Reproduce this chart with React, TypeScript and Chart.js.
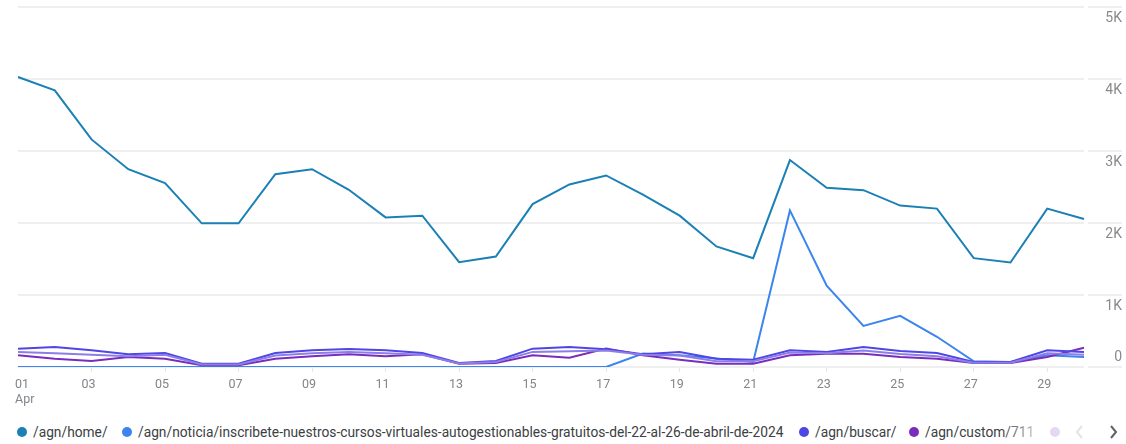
import React, { useEffect, useRef } from 'react';
import { Chart, registerables } from 'chart.js';

Chart.register(...registerables);

const days = ['01','02','03','04','05','06','07','08','09','10','11','12','13','14','15','16','17','18','19','20','21','22','23','24','25','26','27','28','29','30'];
const monthLabel = 'Apr';

const home = [4028,3843,3161,2747,2553,1995,1995,2677,2747,2461,2078,2101,1456,1535,2263,2535,2660,2395,2102,1674,1512,2874,2488,2456,2242,2200,1512,1451,2200,2056];
const noticia = [0,0,0,0,0,0,0,0,0,0,0,0,0,0,0,0,0,187,164,117,70,2175,1131,570,710,420,80,70,162,139];
const buscar = [255,278,231,176,194,46,46,194,231,250,231,194,56,83,255,278,245,176,208,116,102,231,208,278,222,194,70,70,231,208];
const custom711 = [162,116,83,139,116,23,23,116,148,176,148,176,46,56,162,130,255,162,102,46,46,162,185,185,139,116,56,56,139,268];
const fifthPage = [210,190,170,150,170,35,35,160,190,210,190,170,50,70,210,220,230,170,160,80,80,200,190,230,180,150,60,60,190,170];

const yTickValues = [0,1000,2000,3000,4000,5000];
const yTickLabels = ['0','1K','2K','3K','4K','5K'];

const legendNames = [
  '/agn/home/',
  '/agn/noticia/inscribete-nuestros-cursos-virtuales-autogestionables-gratuitos-del-22-al-26-de-abril-de-2024',
  '/agn/buscar/',
  '/agn/custom/711',
];
const seriesColors = ['#1b80b5', '#3a85ef', '#4f46e5', '#7a2dbd', '#8c7ee6'];
const legendDotX = [22, 127, 804, 914];

const yLabelPlugin = {
  id: 'yLabelPlugin',
  afterDraw(chart: any) {
    const { ctx, chartArea, scales } = chart;
    const y = scales.y;
    ctx.save();
    yTickValues.forEach((v, i) => {
      const py = Math.round(y.getPixelForValue(v));
      ctx.strokeStyle = '#efefef';
      ctx.lineWidth = 2;
      ctx.beginPath();
      ctx.moveTo(chartArea.right + 4, py);
      ctx.lineTo(chart.width - 4, py);
      ctx.stroke();
      ctx.fillStyle = '#8a8a8a';
      ctx.font = '14px Roboto';
      ctx.textAlign = 'right';
      ctx.textBaseline = 'middle';
      ctx.fillText(yTickLabels[i], chart.width - 4, v === 0 ? py - 10 : py + 11);
    });
    ctx.restore();
  },
};

export default function App() {
  const canvasRef = useRef<HTMLCanvasElement | null>(null);

  useEffect(() => {
    document.body.style.margin = '0';
    const canvas = canvasRef.current;
    if (!canvas) return;
    const mk = (label: string, data: number[], color: string) => ({
      label,
      data,
      borderColor: color,
      backgroundColor: color,
      borderWidth: 2,
      pointRadius: 0,
      tension: 0,
      fill: false,
    });
    const chart = new Chart(canvas, {
      type: 'line',
      data: {
        labels: days,
        datasets: [
          mk('fifth', fifthPage, seriesColors[4]),
          mk(legendNames[2], buscar, seriesColors[2]),
          mk(legendNames[3], custom711, seriesColors[3]),
          mk(legendNames[1], noticia, seriesColors[1]),
          mk(legendNames[0], home, seriesColors[0]),
        ],
      },
      options: {
        animation: false,
        responsive: true,
        maintainAspectRatio: false,
        layout: { padding: { left: 18, top: 7, right: 0, bottom: 0 } },
        plugins: { legend: { display: false }, tooltip: { enabled: false } },
        scales: {
          x: {
            offset: false,
            grid: {
              drawOnChartArea: false,
              drawTicks: true,
              tickLength: 5,
              tickColor: (c: any) => (c.index % 2 === 0 && c.index > 0 ? '#e6e6e6' : 'rgba(0,0,0,0)'),
            },
            border: { display: false },
            afterFit: (s: any) => { s.height = 43; },
            ticks: {
              autoSkip: false,
              maxRotation: 0,
              align: 'inner',
              labelOffset: -3,
              padding: 5,
              color: '#80868b',
              font: { family: 'Roboto', size: 12.5 },
              callback: (_v: any, i: number) => (i === 0 ? [days[0], monthLabel] : i % 2 === 0 ? days[i] : ''),
            },
          },
          y: {
            position: 'right',
            min: 0,
            max: 5000,
            ticks: { display: false, stepSize: 1000 },
            grid: { color: '#efefef', lineWidth: 2, drawTicks: false },
            border: { display: false },
            afterFit: (s: any) => { s.width = 42; },
          },
        },
      },
      plugins: [yLabelPlugin],
    });
    return () => chart.destroy();
  }, []);

  return (
    <div style={{ position: 'relative', width: 1126, height: 444, background: '#fff', fontFamily: 'Roboto, sans-serif' }}>
      <div style={{ position: 'absolute', left: 0, top: 0, width: 1126, height: 410 }}>
        <canvas ref={canvasRef} />
      </div>
      {legendNames.map((name, i) => (
        <div key={name} style={{ position: 'absolute', left: legendDotX[i] - 5, top: 424, height: 16, display: 'flex', alignItems: 'center', whiteSpace: 'nowrap', fontSize: 13.75, color: '#3c4043' }}>
          <span style={{ display: 'inline-block', width: 10, height: 10, borderRadius: 5, background: seriesColors[i], marginRight: 6 }} />
          <span>{name}</span>
        </div>
      ))}
      <div style={{ position: 'absolute', left: 1000, top: 418, width: 45, height: 26, background: 'linear-gradient(to right, rgba(255,255,255,0), rgba(255,255,255,0.9))' }} />
      <span style={{ position: 'absolute', left: 1050, top: 427, width: 10, height: 10, borderRadius: 5, background: '#e4d9f1' }} />
      <svg style={{ position: 'absolute', left: 1074, top: 424 }} width="12" height="16">
        <polyline points="8,2 3,8 8,14" fill="none" stroke="#e3e3e3" strokeWidth="2" />
      </svg>
      <svg style={{ position: 'absolute', left: 1107, top: 424 }} width="12" height="16">
        <polyline points="4,2 9,8 4,14" fill="none" stroke="#5f6368" strokeWidth="2" />
      </svg>
    </div>
  );
}
